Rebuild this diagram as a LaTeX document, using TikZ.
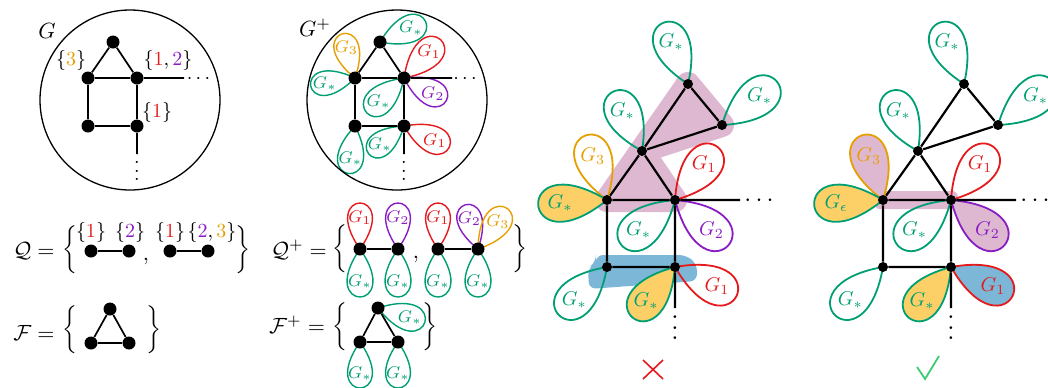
\RequirePackage{fix-cm}
\documentclass[tikz,border=0pt]{standalone}
\usepackage{graphicx}
\usetikzlibrary{calc}

\definecolor{cgreen}{HTML}{009E73}
\definecolor{corange}{HTML}{E69F00}
\definecolor{cred}{HTML}{E41A1C}
\definecolor{cpurple}{HTML}{8A1CC4}
\definecolor{fpink}{HTML}{DEB8D0}
\definecolor{fblue}{HTML}{7DB7D8}
\definecolor{forange}{HTML}{FCD066}
\definecolor{ccheck}{HTML}{3DCB73}

\pgfdeclarelayer{shade}
\pgfdeclarelayer{petals}
\pgfsetlayers{shade,petals,main}

% three stacked dots with a given spacing, no space above them
\newcommand{\dotstack}[1]{\vbox{\baselineskip#1\lineskiplimit0pt\hbox{.}\hbox{.}\hbox{.}}}

% \petal[extra options]{node}{direction}{length}{colour}{label}
% a teardrop loop attached to a vertex, with its label inside
\newcommand{\petal}[6][]{%
  \pgfmathsetmacro{\petalL}{#4/(0.75*cos(35))}%
  \begin{pgfonlayer}{petals}
    \draw[petal, draw=#5, #1] (#2.center) .. controls +(#3-35:\petalL) and +(#3+35:\petalL) .. (#2.center);
    \node[petal label, text=#5] (#2 at #3) at ($(#2.center)+(#3:0.68*#4)$) {$#6$};
  \end{pgfonlayer}}

% the larger graph: two triangles on top of a square
\newcommand{\rightgraph}[1]{%
  \node[dotS] (#1A) at (688,-84) {};
  \node[dotS] (#1B) at (722,-125) {};
  \node[dotS] (#1C) at (642,-151) {};
  \node[dotS] (#1D) at (607,-200) {};
  \node[dotS] (#1E) at (675,-200) {};
  \node[dotS] (#1F) at (607,-267) {};
  \node[dotS] (#1H) at (675,-267) {};
  \coordinate (#1Ee) at (740,-200);
  \coordinate (#1Hs) at (675,-308);
  \draw[linkR] (#1A)--(#1B) (#1A)--(#1C) (#1B)--(#1C) (#1C)--(#1D) (#1C)--(#1E)
               (#1D)--(#1E) (#1D)--(#1F) (#1E)--(#1H) (#1F)--(#1H)
               (#1E)--(#1Ee) (#1H)--(#1Hs);
  \node[hdotsnode, font=\fontsize{12.5}{14}\selectfont] (#1Ed) at (759,-206) {$\cdots$};
  \node[vdotsnode] (#1Hd) at (675,-340) {\scalebox{1.3}{\dotstack{4pt}}};
}

\begin{document}
\begin{tikzpicture}[x=0.5pt,y=0.5pt,
  dotL/.style={circle,fill=black,inner sep=0pt,minimum size=6.5pt},
  dotS/.style={circle,fill=black,inner sep=0pt,minimum size=5pt},
  link/.style={line width=0.85pt},
  linkR/.style={line width=1.1pt},
  ring/.style={line width=0.65pt},
  petal/.style={line width=0.7pt},
  petal label/.style={font=\fontsize{8.5}{10}\selectfont, inner sep=0.5pt},
  setlbl/.style={font=\fontsize{10}{12}\selectfont, inner sep=0pt},
  mainlbl/.style={font=\fontsize{11}{13}\selectfont, inner sep=0pt},
  bracelbl/.style={font=\fontsize{10}{12}\selectfont, inner sep=0pt},
  hdotsnode/.style={anchor=base, inner sep=0pt, font=\fontsize{10}{12}\selectfont},
  vdotsnode/.style={anchor=south, inner sep=0pt},
]
\useasboundingbox (0,0) rectangle (1048,-387);

% ---------- G ----------
\draw[ring] (130,-100) circle[radius=90];
\node[mainlbl] (gname) at (47,-31) {$G$};
\node[dotL] (g1) at (113,-42) {};
\node[dotL] (g2) at (88,-78) {};
\node[dotL] (g3) at (137,-78) {};
\node[dotL] (g4) at (88,-126) {};
\node[dotL] (g5) at (137,-126) {};
\coordinate (g3e) at (184,-78);
\coordinate (g5s) at (137,-154);
\draw[link] (g1)--(g2) (g1)--(g3) (g2)--(g3) (g2)--(g4) (g3)--(g5) (g4)--(g5)
            (g3)--(g3e) (g5)--(g5s);
\node[hdotsnode] (g3d) at (198.5,-83) {$\cdots$};
\node[vdotsnode] (g5d) at (137,-181) {\dotstack{4.2pt}};
\node[setlbl] (g2l) at (71,-60) {$\{{\color{corange}3}\}$};
\node[setlbl] (g3l) at (168,-60) {$\{{\color{cred}1},{\color{cpurple}2}\}$};
\node[setlbl] (g5l) at (157,-112) {$\{{\color{cred}1}\}$};

% ---------- G+ ----------
\draw[ring] (397,-100) circle[radius=90];
\node[mainlbl] (hname) at (315,-28) {$G^+$};
\node[dotL] (h1) at (380,-42) {};
\node[dotL] (h2) at (355,-78) {};
\node[dotL] (h3) at (404,-78) {};
\node[dotL] (h4) at (355,-126) {};
\node[dotL] (h5) at (404,-126) {};
\coordinate (h3e) at (452,-78);
\coordinate (h5s) at (404,-154);
\draw[link] (h1)--(h2) (h1)--(h3) (h2)--(h3) (h2)--(h4) (h3)--(h5) (h4)--(h5)
            (h3)--(h3e) (h5)--(h5s);
\node[hdotsnode] (h3d) at (465,-83) {$\cdots$};
\node[vdotsnode] (h5d) at (404,-181) {\dotstack{4.2pt}};
\petal{h1}{24}{50}{cgreen}{G_*}
\petal{h2}{106}{46}{corange}{G_3}
\petal{h2}{190}{45}{cgreen}{G_*}
\petal{h3}{46}{53}{cred}{G_1}
\petal{h3}{-28}{48}{cpurple}{G_2}
\petal{h3}{223}{51}{cgreen}{G_*}
\petal{h4}{262}{48}{cgreen}{G_*}
\petal{h5}{218}{45}{cgreen}{G_*}
\petal{h5}{-25}{50}{cred}{G_1}

% ---------- Q ----------
\node[mainlbl] (qname) at (34,-251) {$\mathcal{Q} =$};
\node[bracelbl] (qlb) at (70,-250) {$\bigg\{$};
\node[bracelbl] (qrb) at (243,-250) {$\bigg\}$};
\node[dotL] (q1) at (91,-251) {};
\node[dotL] (q2) at (129,-251) {};
\node[dotL] (q3) at (170,-251) {};
\node[dotL] (q4) at (208,-251) {};
\draw[link] (q1)--(q2) (q3)--(q4);
\node[mainlbl] (qcomma) at (146,-261) {$,$};
\node[setlbl] (q1l) at (91,-232) {$\{{\color{cred}1}\}$};
\node[setlbl] (q2l) at (130,-232) {$\{{\color{cpurple}2}\}$};
\node[setlbl] (q3l) at (170,-232) {$\{{\color{cred}1}\}$};
\node[setlbl] (q4l) at (212,-232) {$\{{\color{cpurple}2},{\color{corange}3}\}$};

% ---------- F ----------
\node[mainlbl] (fname) at (34,-333) {$\mathcal{F} =$};
\node[bracelbl] (flb) at (70,-330) {$\bigg\{$};
\node[bracelbl] (frb) at (154,-330) {$\bigg\}$};
\node[dotL] (f1) at (110,-309) {};
\node[dotL] (f2) at (91,-343) {};
\node[dotL] (f3) at (129,-343) {};
\draw[link] (f1)--(f2) (f1)--(f3) (f2)--(f3);

% ---------- Q+ ----------
\node[mainlbl] (qpname) at (299,-250) {$\mathcal{Q}^+ =$};
\node[bracelbl] (qplb) at (340,-249) {$\bigg\{$};
\node[bracelbl] (qprb) at (520,-249) {$\bigg\}$};
\node[dotL] (r1) at (360,-249) {};
\node[dotL] (r2) at (398,-249) {};
\node[dotL] (r3) at (438,-249) {};
\node[dotL] (r4) at (478,-249) {};
\draw[link] (r1)--(r2) (r3)--(r4);
\node[mainlbl] (qpcomma) at (416,-259) {$,$};
\petal{r1}{90}{46}{cred}{G_1}
\petal{r1}{270}{48}{cgreen}{G_*}
\petal{r2}{90}{46}{cpurple}{G_2}
\petal{r2}{270}{48}{cgreen}{G_*}
\petal{r3}{90}{46}{cred}{G_1}
\petal{r3}{270}{48}{cgreen}{G_*}
\petal{r4}{106}{46}{cpurple}{G_2}
\petal{r4}{54}{50}{corange}{G_3}
\petal{r4}{270}{48}{cgreen}{G_*}

% ---------- F+ ----------
\node[mainlbl] (fpname) at (297,-325) {$\mathcal{F}^+ =$};
\node[bracelbl] (fplb) at (340,-327) {$\bigg\{$};
\node[bracelbl] (fprb) at (430,-327) {$\bigg\}$};
\node[dotL] (s1) at (378,-308) {};
\node[dotL] (s2) at (360,-342) {};
\node[dotL] (s3) at (398,-342) {};
\draw[link] (s1)--(s2) (s1)--(s3) (s2)--(s3);
\petal{s1}{-17}{49}{cgreen}{G_*}
\petal{s2}{270}{46}{cgreen}{G_*}
\petal{s3}{270}{46}{cgreen}{G_*}

% ---------- first colouring (rejected) ----------
\begin{scope}[petal/.style={line width=0.9pt},
              petal label/.style={font=\fontsize{10}{12}\selectfont, inner sep=0.5pt}]
  \rightgraph{a}
  \begin{pgfonlayer}{shade}
    \filldraw[fpink, line width=12pt, line join=round]
      (aA.center) -- (aB.center) -- (aC.center) -- (aE.center) -- (aD.center) -- cycle;
    \fill[fblue, rounded corners=3.5pt]
      (596,-255) -- (686,-255) -- (697,-264) -- (697,-281) -- (589,-289) -- (588,-268) -- (596,-262) -- cycle;
  \end{pgfonlayer}
  \petal{aA}{112}{66}{cgreen}{G_*}
  \petal{aB}{38}{70}{cgreen}{G_*}
  \petal{aC}{116}{66}{cgreen}{G_*}
  \petal{aD}{108}{68}{corange}{G_3}
  \petal[fill=forange]{aD}{184}{69}{cgreen}{G_*}
  \petal{aE}{51}{68}{cred}{G_1}
  \petal{aE}{-40}{70}{cpurple}{G_2}
  \petal{aE}{220}{70}{cgreen}{G_*}
  \petal{aF}{225}{68}{cgreen}{G_*}
  \petal[fill=forange]{aH}{230}{66}{cgreen}{G_*}
  \petal{aH}{-25}{68}{cred}{G_1}
  \draw[cred, line width=0.8pt] (643,-360) -- (663,-379) (643,-379) -- (663,-360);
\end{scope}

% ---------- second colouring (accepted) ----------
\begin{scope}[xshift=138pt,
              petal/.style={line width=0.9pt},
              petal label/.style={font=\fontsize{10}{12}\selectfont, inner sep=0.5pt}]
  \rightgraph{b}
  \begin{pgfonlayer}{shade}
    \fill[fpink, rounded corners=3pt] ($(bD.center)+(-9,9)$) rectangle ($(bE.center)+(7,-9)$);
  \end{pgfonlayer}
  \petal{bA}{112}{66}{cgreen}{G_*}
  \petal{bB}{38}{70}{cgreen}{G_*}
  \petal{bC}{116}{66}{cgreen}{G_*}
  \petal[fill=fpink]{bD}{108}{68}{corange}{G_3}
  \petal[fill=forange]{bD}{184}{69}{cgreen}{G_\epsilon}
  \petal{bE}{51}{68}{cred}{G_1}
  \petal[fill=fpink]{bE}{-40}{70}{cpurple}{G_2}
  \petal{bE}{220}{70}{cgreen}{G_*}
  \petal{bF}{225}{68}{cgreen}{G_*}
  \petal[fill=forange]{bH}{230}{66}{cgreen}{G_*}
  \petal[fill=fblue]{bH}{-25}{68}{cred}{G_1}
  \draw[ccheck, line width=0.9pt] (641,-367) -- (649,-379) -- (663,-356);
\end{scope}
\end{tikzpicture}
\end{document}
